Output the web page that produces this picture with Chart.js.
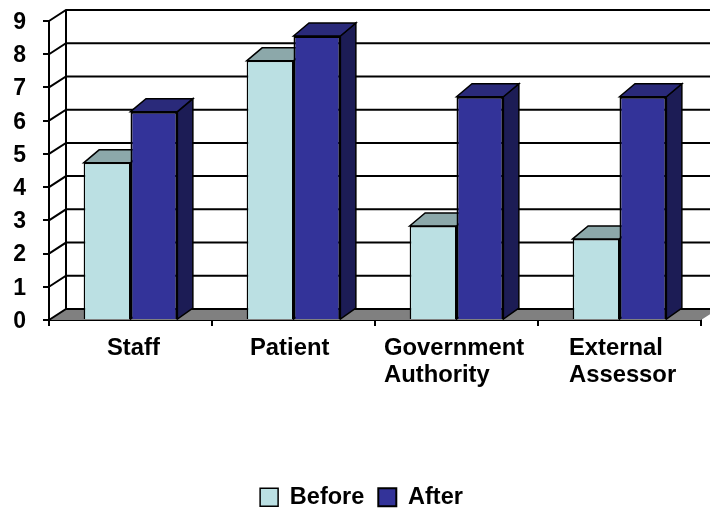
<!DOCTYPE html>
<html><head><meta charset="utf-8">
<style>html,body{margin:0;padding:0;background:#fff}canvas{display:block}</style>
<script src="https://cdn.jsdelivr.net/npm/chart.js@4"></script>
</head><body><canvas id="c" width="710" height="510"></canvas>
<script>
const categories = [["Staff"], ["Patient"], ["Government", "Authority"], ["External", "Assessor"]];
const seriesNames = ["Before", "After"];
const beforeValues = [4.73, 7.8, 2.83, 2.44];
const afterValues = [6.27, 8.55, 6.72, 6.72];
const yTicks = [0, 1, 2, 3, 4, 5, 6, 7, 8, 9];

const FONT = "Liberation Sans";
const wall = {dx: 17, dy: -11}, depth = {dx: 15.5, topDy: -13, baseDy: -11};
const labelShift = [-23.5, -43.5, -72.5, -50.5];
const faces = [
  {face: "#BBE0E3", top: "#8CA8AA", side: "#8CA8AA"},
  {face: "#333399", top: "#2A2A7A", side: "#1C1C55"}
];
function poly(ctx, pts, fill, stroke, lw) {
  ctx.beginPath();
  pts.forEach((p, i) => i ? ctx.lineTo(p[0], p[1]) : ctx.moveTo(p[0], p[1]));
  ctx.closePath();
  if (fill) { ctx.fillStyle = fill; ctx.fill(); }
  if (stroke) { ctx.strokeStyle = stroke; ctx.lineWidth = lw; ctx.lineJoin = "miter"; ctx.stroke(); }
}
const threeD = {
  id: "threeD",
  afterLayout(chart) {
    chart.legend.top += 9;
    chart.legend.bottom += 9;
    chart.legend.left += 11;
    chart.legend.right += 11;
  },
  beforeDatasetsDraw(chart) {
    const {ctx, scales: {x, y}} = chart;
    const x0 = x.left, x1 = x.right, y0 = y.bottom;
    const W = wall.dx, H = wall.dy;
    ctx.save();
    poly(ctx, [[x0, y0], [x0 + W, y0 + H], [x1 + W, y0 + H], [x1, y0]], "#808080", null);
    ctx.strokeStyle = "#000"; ctx.lineWidth = 2;
    yTicks.forEach(v => {
      const py = y.getPixelForValue(v);
      ctx.beginPath();
      ctx.moveTo(x0, py);
      ctx.lineTo(x0 + W, py + H);
      ctx.lineTo(x1 + W, py + H);
      ctx.stroke();
    });
    ctx.beginPath();
    ctx.moveTo(x0 + W, y.getPixelForValue(yTicks[yTicks.length - 1]) + H);
    ctx.lineTo(x0 + W, y0 + H);
    ctx.stroke();
    chart.data.datasets.forEach((ds, di) => {
      chart.getDatasetMeta(di).data.forEach(b => {
        const l = b.x - b.width / 2, r = b.x + b.width / 2, t = b.y, bot = b.base;
        const d = depth;
        poly(ctx, [[r, t], [r + d.dx, t + d.topDy], [r + d.dx, bot + d.baseDy], [r, bot]], faces[di].side, "#000", 1.5);
        poly(ctx, [[l, t], [l + d.dx, t + d.topDy], [r + d.dx, t + d.topDy], [r, t]], faces[di].top, "#000", 1.5);
      });
    });
    ctx.restore();
  },
  afterDraw(chart) {
    const {ctx, scales: {x}} = chart;
    ctx.save();
    ctx.font = "bold 23.8px '" + FONT + "'";
    ctx.fillStyle = "#000";
    ctx.textAlign = "left";
    ctx.textBaseline = "alphabetic";
    x.ticks.forEach((tick, i) => {
      const lines = [].concat(tick.label);
      lines.forEach((s, k) => ctx.fillText(s, x.getPixelForTick(i) + labelShift[i], 354.5 + k * 27));
    });
    ctx.restore();
  }
};
new Chart(document.getElementById("c"), {
  type: "bar",
  data: {
    labels: categories,
    datasets: [
      {label: seriesNames[0], data: beforeValues, backgroundColor: faces[0].face, borderColor: "#000", borderWidth: 1.5},
      {label: seriesNames[1], data: afterValues, backgroundColor: faces[1].face, borderColor: "#000", borderWidth: 2}
    ]
  },
  plugins: [threeD],
  options: {
    responsive: false,
    animation: false,
    layout: {padding: {top: 21, right: 9, left: 0, bottom: 0}},
    datasets: {bar: {categoryPercentage: 0.575, barPercentage: 1}},
    plugins: {
      tooltip: {enabled: false},
      legend: {
        position: "bottom",
        labels: {
          boxWidth: 18, boxHeight: 18, padding: 14, color: "#000",
          font: {family: FONT, size: 23.5, weight: "bold"}
        }
      }
    },
    scales: {
      x: {
        type: "category",
        afterFit(s) { s.height = 190 - s.chart.legend.height; s.paddingLeft = 0; s.paddingRight = 0; },
        border: {display: true, color: "#000", width: 2},
        grid: {drawOnChartArea: false, drawTicks: true, tickLength: 6, color: "#000", lineWidth: 2, offset: true},
        ticks: {display: false, autoSkip: false, maxRotation: 0}
      },
      y: {
        min: 0, max: 9,
        afterFit(s) { s.width = 49; s.paddingTop = 0; s.paddingBottom = 0; },
        border: {display: true, color: "#000", width: 2},
        grid: {drawOnChartArea: false, drawTicks: true, tickLength: 6, color: "#000", lineWidth: 2},
        ticks: {stepSize: 1, padding: 17, labelOffset: 1.5, color: "#000", font: {family: FONT, size: 23, weight: "bold"}}
      }
    }
  }
});
</script></body></html>
